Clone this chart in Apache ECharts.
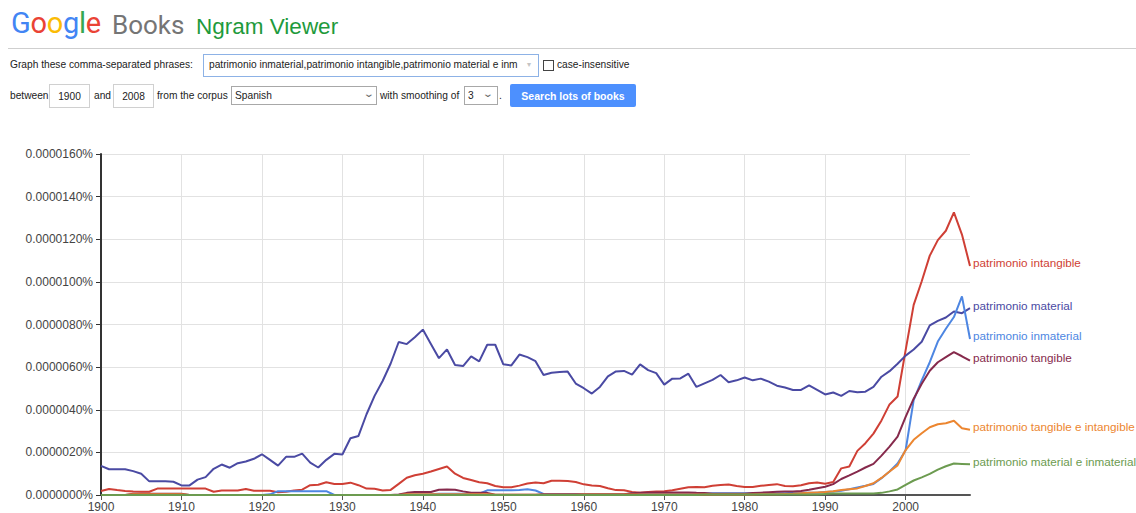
<!DOCTYPE html>
<html>
<head>
<meta charset="utf-8">
<script src="https://cdn.jsdelivr.net/npm/echarts@6/dist/echarts.min.js"></script>
<style>
html,body{margin:0;padding:0;width:1136px;height:513px;overflow:hidden;background:#fff;font-family:"Liberation Sans",Arial,sans-serif;color:#222;}
#chart{position:absolute;left:0;top:0;width:1136px;height:513px;}
.a{position:absolute;white-space:nowrap;}
.logo{font-family:Roboto,"Open Sans",sans-serif;}
.t{font-size:10.2px;color:#222;line-height:14px;}
.box{position:absolute;box-sizing:border-box;background:#fff;}
</style>
</head>
<body>
<div id="chart"></div>

<div class="a logo" style="left:11px;top:9px;font-size:29px;line-height:29px;letter-spacing:-0.3px;"><span style="color:#4285F4">G</span><span style="color:#EA4335">o</span><span style="color:#FBBC05">o</span><span style="color:#4285F4">g</span><span style="color:#34A853">l</span><span style="color:#EA4335">e</span></div>
<div class="a logo" style="left:112px;top:12px;font-size:26px;line-height:26px;color:#757575;">Books</div>
<div class="a" style="left:196px;top:16px;font-size:22.5px;line-height:22px;color:#1e9a3c;">Ngram Viewer</div>
<div class="a" style="left:8px;top:48px;width:1128px;height:1px;background:#cfcfcf;"></div>

<div class="a t" style="left:10px;top:58px;">Graph these comma-separated phrases:</div>
<div class="box" style="left:203px;top:54px;width:336px;height:23px;border:1px solid #8db2e6;"></div>
<div class="a t" style="left:209px;top:58px;">patrimonio inmaterial,patrimonio intangible,patrimonio material e inm</div>
<div class="a" style="left:527px;top:59px;font-size:8px;color:#c4c4c4;line-height:12px;">&#9662;</div>
<div class="box" style="left:543px;top:60px;width:11px;height:11px;border:1px solid #444;"></div>
<div class="a t" style="left:557px;top:58px;">case-insensitive</div>

<div class="a t" style="left:10px;top:89px;">between</div>
<div class="box" style="left:49px;top:84px;width:41px;height:24px;border:1px solid #d0d0d0;"></div>
<div class="a t" style="left:49px;top:90px;width:41px;text-align:center;">1900</div>
<div class="a t" style="left:94px;top:89px;">and</div>
<div class="box" style="left:113px;top:84px;width:41px;height:24px;border:1px solid #d0d0d0;"></div>
<div class="a t" style="left:113px;top:90px;width:41px;text-align:center;">2008</div>
<div class="a t" style="left:157px;top:89px;">from the corpus</div>
<div class="box" style="left:231px;top:86px;width:146px;height:19px;border:1px solid #a8a8a8;"></div>
<div class="a t" style="left:235px;top:89px;">Spanish</div>
<div class="a" style="left:365px;top:87px;font-size:10px;color:#666;line-height:14px;transform:scaleX(1.4);">&#8964;</div>
<div class="a t" style="left:380px;top:89px;">with smoothing of</div>
<div class="box" style="left:464px;top:86px;width:34px;height:19px;border:1px solid #a8a8a8;"></div>
<div class="a t" style="left:468px;top:89px;">3</div>
<div class="a" style="left:484px;top:87px;font-size:10px;color:#666;line-height:14px;transform:scaleX(1.4);">&#8964;</div>
<div class="a t" style="left:499px;top:89px;">.</div>
<div class="box" style="left:510px;top:84px;width:126px;height:23px;background:#4d90fe;border-radius:2px;"></div>
<div class="a" style="left:510px;top:89px;width:126px;text-align:center;font-size:10.5px;line-height:14px;font-weight:bold;color:#fff;">Search lots of books</div>

<script>
// ---- data (values in units of 0.0000001 %) ----
var startYear = 1900;
var endYear = 2008;
var years = [];
for (var y = startYear; y <= endYear; y++) years.push(String(y));

var seriesNames = [
  'patrimonio intangible',
  'patrimonio material',
  'patrimonio inmaterial',
  'patrimonio tangible',
  'patrimonio tangible e intangible',
  'patrimonio material e inmaterial'
];

var intangible = [
  1.9,2.8,2.3,1.9,1.6,1.5,1.5,3.0,3.0,3.0,
  3.0,3.0,3.0,3.0,1.5,2.1,2.1,2.1,2.8,2.0,
  2.0,2.0,1.3,1.5,2.1,2.5,4.6,4.8,6.0,5.2,
  5.2,5.8,4.6,3.0,2.9,2.1,2.4,5.2,8.1,9.3,
  10.0,11.0,12.2,13.4,10.0,8.0,7.0,6.0,5.5,4.2,
  3.6,3.6,4.4,5.4,5.9,5.5,6.7,6.7,6.6,6.1,
  5.0,4.5,4.2,3.2,2.3,2.2,1.4,1.1,1.4,1.6,
  1.8,2.2,2.9,3.6,3.7,3.6,4.3,4.7,4.9,4.2,
  3.8,3.8,4.3,4.7,5.1,4.2,4.1,4.6,5.5,5.9,
  5.3,6.1,12.5,13.4,20.7,24.3,28.8,35.0,42.5,46.2,
  68.0,89.2,100.3,112.3,119.6,124.0,132.6,122.2,107.5
];

var material = [
  13.7,12.1,12.1,12.1,11.2,10.0,6.4,6.4,6.4,6.2,
  4.5,4.5,7.2,8.4,12.3,14.3,12.8,14.9,15.7,17.0,
  19.1,16.5,13.8,17.9,17.9,19.4,15.2,12.9,16.5,19.3,
  19.0,26.6,27.7,37.9,46.5,53.5,61.7,71.8,70.8,74.0,
  77.6,70.9,64.2,68.3,61.0,60.5,65.0,62.7,70.5,70.5,
  61.3,60.8,65.9,64.7,62.8,56.3,57.4,57.7,57.9,52.3,
  50.1,47.6,50.7,55.7,58.0,58.2,56.5,61.3,58.6,57.2,
  51.8,54.6,54.7,56.9,50.7,52.4,54.0,56.3,52.9,53.8,
  55.1,53.8,54.6,53.2,51.3,50.4,49.3,49.3,51.4,49.3,
  47.2,48.1,46.5,48.8,48.2,48.5,50.7,55.5,58.1,61.6,
  65.4,68.3,71.9,79.6,81.7,83.3,86.1,85.3,87.7
];

var inmaterial = [
  0,0,0,0,0,0,0,0,0,0,
  0,0,0,0,0,0,0,0,0,0,
  0,0.3,1.8,1.8,1.8,1.8,1.8,1.8,1.8,0,
  0,0,0,0,0,0,0,0,0.3,0.3,
  0.3,0.3,0.6,0.6,0.6,0.6,0.6,0.6,2.2,2.2,
  2.2,2.2,2.4,2.7,2.1,0.5,0.3,0.3,0.3,0.3,
  0.3,0.3,0.3,0.3,0.3,0.3,0.7,0.7,0.7,0.7,
  0.7,0.7,0.7,0.7,0.7,0.7,0.8,0.8,0.8,0.8,
  0.8,0.8,0.8,0.8,0.8,0.8,1.1,1.1,1.1,1.1,
  1.4,1.6,2.0,2.7,3.5,4.3,5.2,7.9,11.0,14.8,
  21.0,44.5,53.8,62.3,72.0,78.0,83.5,93.2,73.2
];

var tangible = [
  0,0,0,0,0.6,0.6,0.6,0.6,0.6,0.6,
  0.6,0,0,0,0,0,0,0,0,0,
  0,0,0,0,0,0,0,0,0,0,
  0,0,0,0,0,0,0,0.2,1.0,1.4,
  1.4,1.4,2.5,2.6,2.5,1.7,1.1,1.0,1.0,0.1,
  0.1,0.1,0.1,0.1,0.1,0.4,0.4,0.4,0.4,0.4,
  0.4,0.4,0.4,0.4,0.4,0.4,0.8,1.0,1.2,1.2,
  1.2,1.2,1.2,1.2,1.0,0.9,0.6,0.6,0.6,0.6,
  0.6,0.9,1.1,1.3,1.5,1.6,1.7,1.9,2.5,3.2,
  3.9,5.1,7.5,9.2,11.0,12.9,14.6,18.5,22.7,27.4,
  36.7,45.2,52.2,58.3,62.3,64.7,67.0,65.1,63.0
];

var tangibleIntangible = [
  0,0,0,0,0.4,0.4,0.4,0.4,0.4,0.4,
  0.4,0,0,0,0,0,0,0,0,0,
  0,0,0,0,0,0,0,0,0,0,
  0,0,0,0,0,0,0,0,0.4,0.4,
  0.4,0.4,0.4,0.4,0.4,0.4,0.4,0.4,0.4,0.1,
  0.1,0.1,0.1,0.1,0.1,0.1,0.1,0.1,0.1,0.1,
  0.2,0.2,0.2,0.2,0.2,0.2,0.2,0.2,0.2,0.2,
  0.2,0.2,0.2,0.2,0.2,0.2,0.2,0.2,0.2,0.2,
  0.2,0.2,0.3,0.3,0.4,0.5,0.6,0.8,1.0,1.2,
  1.4,1.8,2.3,2.7,3.1,4.2,5.5,8.0,11.0,13.9,
  21.1,25.9,29.0,31.8,33.2,33.7,34.8,31.3,30.6
];

var materialInmaterial = [
  0,0,0,0,0,0,0,0,0,0,
  0,0,0,0,0,0,0,0,0,0,
  0,0,0,0,0,0,0,0,0,0,
  0,0,0,0,0,0,0,0,0,0,
  0,0,0,0,0,0,0,0,0,0,
  0,0,0,0,0,0,0,0,0,0,
  0,0,0,0,0,0,0,0,0,0,
  0,0,0,0,0,0.2,0.2,0.2,0.2,0.2,
  0.2,0.2,0.2,0.2,0.2,0.2,0.2,0.2,0.2,0.2,
  0.5,0.7,0.7,0.7,0.7,0.7,0.7,1.0,1.7,2.6,
  4.8,6.8,8.3,9.9,11.9,13.5,14.8,14.6,14.4
];

var yTickMax = 160;
var yTickStep = 20;
var decadeStep = 10;

// ---- styles ----
var colors = ['#cf3f35', '#4a4aa3', '#4d86e2', '#862a4c', '#ec8630', '#6c9b50'];
var seriesData = [intangible, material, inmaterial, tangible, tangibleIntangible, materialInmaterial];

var chart = echarts.init(document.getElementById('chart'), null, {renderer: 'svg'});
var isDecade = function (i, v) { return Number(v) % decadeStep === 0; };

chart.setOption({
  animation: false,
  textStyle: {fontFamily: '"Liberation Sans", Arial, sans-serif'},
  grid: {left: 101, top: 154, width: 869, height: 343, containLabel: false},
  xAxis: {
    type: 'category',
    data: years,
    boundaryGap: false,
    axisLine: {lineStyle: {color: '#555', width: 2}},
    axisTick: {interval: isDecade, length: 5, lineStyle: {color: '#555'}},
    axisLabel: {interval: isDecade, color: '#444', fontSize: 12, margin: 6},
    splitLine: {show: true, interval: isDecade, lineStyle: {color: '#e2e2e2', width: 1}}
  },
  yAxis: {
    type: 'value',
    min: 0,
    max: yTickMax,
    interval: yTickStep,
    axisLine: {show: true, lineStyle: {color: '#333', width: 2}},
    axisTick: {show: true, length: 5, lineStyle: {color: '#333'}},
    axisLabel: {
      color: '#444', fontSize: 12, margin: 8,
      formatter: function (v) { return (v / 1e7).toFixed(7) + '%'; }
    },
    splitLine: {lineStyle: {color: '#e2e2e2', width: 1}}
  },
  series: seriesNames.map(function (name, i) {
    return {
      name: name,
      type: 'line',
      data: seriesData[i],
      showSymbol: false,
      symbol: 'none',
      smooth: false,
      lineStyle: {color: colors[i], width: 2},
      itemStyle: {color: colors[i]},
      endLabel: {
        show: true,
        formatter: '{a}',
        color: colors[i],
        fontSize: 11.7,
        distance: 3,
        offset: [0, -3]
      }
    };
  })
});
</script>
</body>
</html>
